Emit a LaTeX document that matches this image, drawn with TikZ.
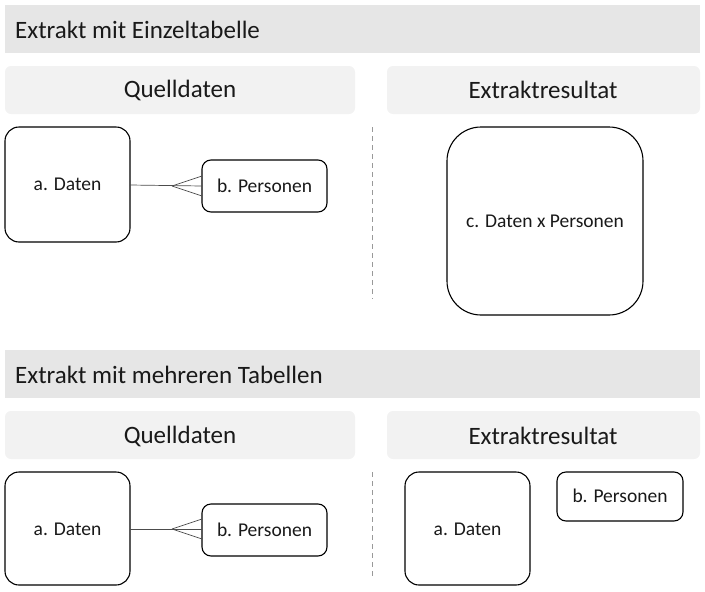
\documentclass[tikz,border=0pt]{standalone}
\usepackage{fontspec}
\setmainfont{Carlito}
\definecolor{hdr}{HTML}{E6E6E6}
\definecolor{sub}{HTML}{F2F2F2}
\begin{document}
\begin{tikzpicture}[x=1pt,y=-1pt,
  hdrbox/.style={fill=hdr,draw=none},
  subbox/.style={fill=sub,draw=none,rounded corners=6pt},
  ent/.style={draw=black,line width=1.1pt,rounded corners=#1},
  ent/.default=12pt,
  lbl/.style={font=\fontsize{19.5}{22}\selectfont,text=black!90},
  hlbl/.style={font=\fontsize{25}{29}\selectfont,text=black!90},
  rel/.style={draw=black!70,line width=0.7pt},
  sep/.style={draw=black!40,dashed,line width=0.7pt,dash pattern=on 5pt off 4pt}]
\useasboundingbox (0,0) rectangle (705,592);
% headers
\fill[hdrbox] (5,5) rectangle (700,53);
\node[hlbl,anchor=west,inner sep=0pt] (h1) at (15,30) {Extrakt mit Einzeltabelle};
\fill[subbox] (5,66) rectangle (355,114);
\node[hlbl] (q1) at (180,90) {Quelldaten};
\fill[subbox] (387,66) rectangle (700,114);
\node[hlbl] (e1) at (543,90) {Extraktresultat};
% top source
\draw[ent=14pt] (5,127) rectangle (130,242);
\node[lbl] (a1) at (67.5,184.5) {a. Daten};
\coordinate (a1r) at (130,185);
\draw[ent=9pt] (202,160) rectangle (327,212);
\node[lbl] (b1) at (264.5,186) {b. Personen};
\coordinate (b1l) at (202,186);
\coordinate (f1) at (172,186);
\draw[rel] (a1r) -- (b1l);
\draw[rel] (f1) -- (202,176);
\draw[rel] (f1) -- (202,196);
\draw[sep] (372,127) -- (372,299);
\draw[ent=34pt] (447,127) rectangle (643,315);
\node[lbl] (c1) at (545,221) {c. Daten x Personen};
% second header
\fill[hdrbox] (5,350) rectangle (700,398);
\node[hlbl,anchor=west,inner sep=0pt] (h2) at (15,375) {Extrakt mit mehreren Tabellen};
\fill[subbox] (5,411) rectangle (355,459);
\node[hlbl] (q2) at (180,436) {Quelldaten};
\fill[subbox] (387,411) rectangle (700,459);
\node[hlbl] (e2) at (543,436) {Extraktresultat};
% bottom source
\draw[ent=14pt] (5,472) rectangle (130,585);
\node[lbl] (a2) at (67.5,529) {a. Daten};
\coordinate (a2r) at (130,529);
\draw[ent=9pt] (202,504) rectangle (327,556);
\node[lbl] (b2) at (264.5,530) {b. Personen};
\coordinate (b2l) at (202,529);
\coordinate (f2) at (172,529);
\draw[rel] (a2r) -- (b2l);
\draw[rel] (f2) -- (202,519);
\draw[rel] (f2) -- (202,539);
\draw[sep] (372,472) -- (372,576);
\draw[ent=14pt] (405,472) rectangle (530,585);
\node[lbl] (a3) at (467.5,529) {a. Daten};
\draw[ent=9pt] (557,472) rectangle (683,521);
\node[lbl] (b3) at (620,495.5) {b. Personen};
\end{tikzpicture}
\end{document}
